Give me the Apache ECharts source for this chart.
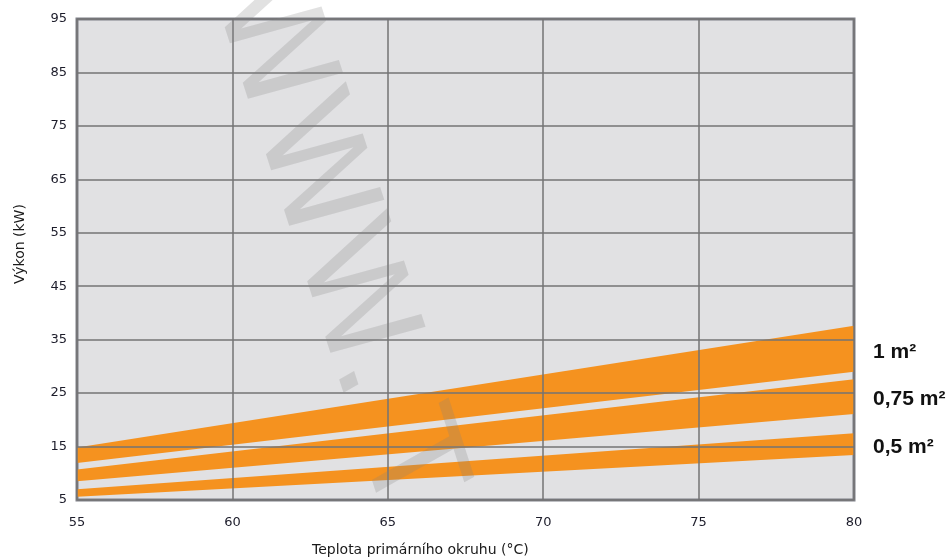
<!DOCTYPE html>
<html><head><meta charset="utf-8">
<script src="https://cdn.jsdelivr.net/npm/echarts@6/dist/echarts.min.js"></script>
<style>html,body{margin:0;padding:0;background:#fff}#c{width:951px;height:560px}</style>
</head><body><div id="c"></div>
<script>
// Data
const temps = [55, 80];
const bandLabels = ['1 m²', '0,75 m²', '0,5 m²'];
const band1Lower = [11.9, 29.0];
const band1Upper = [14.8, 37.6];
const band2Lower = [8.5, 21.1];
const band2Upper = [10.7, 27.6];
const band3Lower = [5.6, 13.4];
const band3Upper = [7.0, 17.5];
const xTitle = 'Teplota primárního okruhu (°C)';
const yTitle = 'Výkon (kW)';
const watermark = 'WWW. T';

const bands = [
  {lower: band1Lower, upper: band1Upper, label: bandLabels[0]},
  {lower: band2Lower, upper: band2Upper, label: bandLabels[1]},
  {lower: band3Lower, upper: band3Upper, label: bandLabels[2]}
];

const chart = echarts.init(document.getElementById('c'), null, {renderer: 'canvas'});
const ORANGE = '#f5921f';
const GRIDLINE = '#737375';

chart.setOption({
  animation: false,
  backgroundColor: '#ffffff',
  grid: {left: 77, right: 97, top: 19, bottom: 60, show: true,
         backgroundColor: '#e1e1e3', borderColor: '#7f8087', borderWidth: 3},
  xAxis: {
    type: 'value', min: 55, max: 80, interval: 5, z: 5,
    axisLine: {show: false}, axisTick: {show: false},
    splitLine: {show: true, lineStyle: {color: GRIDLINE, width: 1.5}},
    axisLabel: {margin: 16, color: '#1c1c2a', fontFamily: 'DejaVu Sans', fontSize: 13}
  },
  yAxis: {
    type: 'value', min: 5, max: 95, interval: 10, z: 5,
    axisLine: {show: false}, axisTick: {show: false},
    splitLine: {show: true, lineStyle: {color: GRIDLINE, width: 1.5}},
    axisLabel: {margin: 10, color: '#1c1c2a', fontFamily: 'DejaVu Sans', fontSize: 13, padding: [7, 0, 0, 0]}
  },
  graphic: [
    {type: 'text', x: 312, y: 550, silent: true,
     style: {text: xTitle, font: '14px "DejaVu Sans"', fill: '#1a1a1a', align: 'left', verticalAlign: 'middle'}},
    {type: 'text', x: 20, y: 244, rotation: Math.PI / 2, silent: true,
     style: {text: yTitle, font: '14px "DejaVu Sans"', fill: '#1a1a1a', align: 'center', verticalAlign: 'middle'}},
    {type: 'text', x: 247, y: -18, rotation: -72 * Math.PI / 180, skewX: 0.2, silent: true, z: 100,
     style: {text: watermark, font: '135px "DejaVu Sans"', fill: 'rgba(128,128,128,0.24)', align: 'left', verticalAlign: 'middle'}}
  ],
  series: [{
    type: 'custom',
    clip: false,
    z: 2,
    data: bands.map((b, i) => [i]),
    renderItem: function (params, api) {
      const b = bands[api.value(0)];
      const pts = [];
      for (let k = 0; k < temps.length; k++) pts.push(api.coord([temps[k], b.upper[k]]));
      for (let k = temps.length - 1; k >= 0; k--) pts.push(api.coord([temps[k], b.lower[k]]));
      const last = temps.length - 1;
      const mid = api.coord([temps[last], (b.upper[last] + b.lower[last]) / 2]);
      return {
        type: 'group',
        children: [
          {type: 'polygon', shape: {points: pts}, style: {fill: ORANGE}},
          {type: 'text', x: mid[0] + 19, y: mid[1] + 3,
           style: {text: b.label, font: 'bold 21px "Liberation Sans"', fill: '#111', align: 'left', verticalAlign: 'middle'}}
        ]
      };
    }
  }]
});
</script></body></html>
